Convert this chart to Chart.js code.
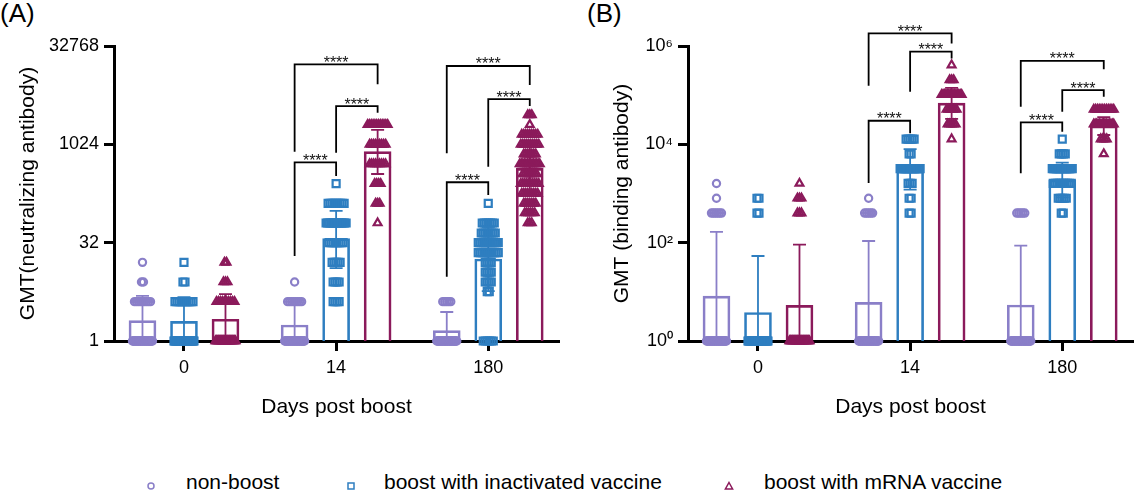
<!DOCTYPE html>
<html>
<head>
<meta charset="utf-8">
<script src="https://cdn.jsdelivr.net/npm/chart.js@4.4.1/dist/chart.umd.min.js"></script>
<style>
  html, body { margin: 0; padding: 0; background: #fff; }
  body { width: 1136px; height: 494px; position: relative; overflow: hidden;
         font-family: 'Liberation Sans', Arial, sans-serif; color: #000; }
  canvas.panel { position: absolute; top: 0; }
  .tag { position: absolute; top: -2px; font-size: 26px; line-height: 30px; }
  .lg-text { position: absolute; top: 470px; font-size: 21px; line-height: 24px; white-space: nowrap; }
  .lg-mark { position: absolute; top: 477px; }
</style>
</head>
<body>
<div class="tag" style="left:0px">(A)</div>
<div class="tag" style="left:587px">(B)</div>
<canvas id="chartA" class="panel" width="570" height="440" style="left:0px"></canvas>
<canvas id="chartB" class="panel" width="570" height="440" style="left:574px"></canvas>
<div id="legend"></div>
<script>
// ---------------- data ----------------
const days = ['0', '14', '180'];
const seriesNames = ['non-boost', 'boost with inactivated vaccine', 'boost with mRNA vaccine'];

const ticksA = [1, 32, 1024, 32768];
const tickLabelsA = ['1', '32', '1024', '32768'];
const ticksB = [1, 100, 10000, 1000000];
const tickLabelsB = ['10\u2070', '10\u00B2', '10\u2074', '10\u2076'];

// Panel A: neutralizing antibody GMT (per day 0 / 14 / 180)
const gmtA_nonBoost     = [2.05, 1.76, 1.44];
const gmtA_inactivated  = [2.0, 36.8, 18.0];
const gmtA_mRNA         = [2.15, 790, 440];
const upA_nonBoost      = [4.9, 3.95, 2.78];
const upA_inactivated   = [4.7, 98, 56];
const upA_mRNA          = [5.2, 1700, 1080];
const lowA_nonBoost     = [0.86, 0.78, 0.75];
const lowA_inactivated  = [0.85, 13, 5.8];
const lowA_mRNA         = [0.89, 360, 180];

// individual titres: [titre, number of subjects]
const ptsA_nonBoost = [
  [[1, 30], [4, 9], [8, 2], [16, 1]],
  [[1, 30], [4, 8], [8, 1]],
  [[1, 30], [4, 5]]
];
const ptsA_inactivated = [
  [[1, 30], [4, 10], [8, 2], [16, 1]],
  [[4, 4], [8, 4], [16, 5], [32, 8], [64, 14], [128, 9], [256, 1]],
  [[1, 6], [5.7, 2], [8, 4], [11.3, 4], [16, 4], [22.6, 11], [32, 12], [45, 8], [64, 7], [128, 1]]
];
const ptsA_mRNA = [
  [[1, 30], [4, 10], [8, 3], [16, 2]],
  [[64, 1], [128, 3], [256, 4], [512, 9], [1024, 9], [2048, 12]],
  [[64, 3], [91, 6], [128, 7], [181, 9], [256, 10], [362, 8], [512, 14], [724, 7], [1024, 10], [1448, 9], [2048, 1], [2896, 3]]
];

// Panel B: binding antibody GMT
const gmtB_nonBoost     = [8.2, 6.1, 5.4];
const gmtB_inactivated  = [3.8, 3100, 1880];
const gmtB_mRNA         = [5.3, 69000, 23600];
const upB_nonBoost      = [165, 108, 87];
const upB_inactivated   = [53.5, 8000, 4230];
const upB_mRNA          = [91, 141000, 35800];
const lowB_nonBoost     = [0.4, 0.35, 0.33];
const lowB_inactivated  = [0.27, 1195, 836];
const lowB_mRNA         = [0.3, 33000, 15500];

const ptsB_nonBoost = [
  [[1, 30], [400, 6], [800, 1], [1600, 1]],
  [[1, 30], [400, 5], [800, 1]],
  [[1, 30], [400, 5]]
];
const ptsB_inactivated = [
  [[1, 30], [400, 2], [800, 2]],
  [[400, 2], [800, 2], [1600, 3], [3200, 15], [6400, 2], [12800, 5]],
  [[400, 2], [800, 5], [1600, 10], [3200, 15], [6400, 4], [12800, 1]]
];
const ptsB_mRNA = [
  [[1, 30], [400, 3], [800, 3], [1600, 1]],
  [[12800, 1], [25600, 5], [51200, 6], [102400, 15], [204800, 3], [409600, 1]],
  [[6400, 1], [12800, 4], [25600, 15], [51200, 12]]
];

// significance brackets: [day, fromSeries, toSeries, topLevel, leftLegEnd, rightLegEnd]
const bracketsA = [
  [1, 0, 2, 17200, 790, 8500],
  [1, 1, 2, 3950, 763, 3120],
  [1, 0, 1, 543, 20, 335],
  [2, 0, 2, 16200, 745, 8300],
  [2, 1, 2, 5050, 466, 3950],
  [2, 0, 1, 269, 9.6, 172]
];
const bracketsB = [
  [1, 0, 2, 1.81e6, 1.556e5, 1.13e6],
  [1, 1, 2, 7.65e5, 1.175e5, 5.6e5],
  [1, 0, 1, 30200, 1634, 16750],
  [2, 0, 2, 5.0e5, 58200, 3.36e5],
  [2, 1, 2, 1.27e5, 46000, 93000],
  [2, 0, 1, 28000, 2570, 18070]
];
const sigLabel = '****';

// ---------------- styling / layout ----------------
const FONT = "'Liberation Sans', Arial, sans-serif";
const COLORS = ['#8A7FC8', '#2E7EC0', '#8B1A5B'];
const STYLES = ['circle', 'rect', 'triangle'];
const RADII = [3.6, 4.95, 4.5];
const X_MIN = -0.46, X_MAX = 2.465;
const PLOT_W = 445;
const PX_PER_UNIT = PLOT_W / (X_MAX - X_MIN);
const G = 41.5 / PX_PER_UNIT;      // offset between series within a day
const STEP_PX = 2, SPREAD_PX = 20;  // horizontal scatter of repeated titres

function buildPoints(list, s) {
  const out = [];
  list.forEach((groups, day) => {
    groups.forEach(([v, n]) => {
      const step = n > 1 ? Math.min(STEP_PX, SPREAD_PX / (n - 1)) : 0;
      for (let j = 0; j < n; j++) {
        const dx = (j - (n - 1) / 2) * step / PX_PER_UNIT;
        out.push({ x: day + (s - 1) * G + dx, y: v });
      }
    });
  });
  return out;
}

function tickLabel(v, ticks, labels) {
  for (let i = 0; i < ticks.length; i++) {
    if (Math.abs(Math.log(v / ticks[i])) < 1e-6) return labels[i];
  }
  return '';
}

function makeChart(id, P) {
  const datasets = [];
  for (let s = 0; s < 3; s++) {
    datasets.push({
      type: 'bar', label: seriesNames[s],
      data: P.means[s].map((v, d) => ({ x: d + (s - 1) * G, y: v })),
      backgroundColor: 'rgba(255,255,255,0)', borderColor: COLORS[s], borderWidth: 2,
      borderSkipped: 'start', barThickness: 27, grouped: false, order: 2
    });
  }
  for (let s = 0; s < 3; s++) {
    datasets.push({
      type: 'scatter', label: seriesNames[s], data: buildPoints(P.points[s], s),
      pointStyle: STYLES[s], pointRadius: RADII[s], pointHoverRadius: RADII[s],
      borderColor: COLORS[s], pointBorderColor: COLORS[s],
      backgroundColor: 'rgba(0,0,0,0)', pointBackgroundColor: 'rgba(0,0,0,0)',
      pointBorderWidth: 2.2, borderWidth: 2.2, showLine: false, clip: false, order: 1
    });
  }

  const errorPlugin = {
    id: 'errors' + id,
    afterDatasetDraw(chart, args) {
      if (args.index > 2) return;
      const s = args.index;
      const xs = chart.scales.x, ys = chart.scales.y, ctx = chart.ctx;
      ctx.save();
      ctx.strokeStyle = COLORS[s];
      ctx.lineWidth = 1.8;
      for (let d = 0; d < 3; d++) {
        const x = xs.getPixelForValue(d + (s - 1) * G);
        const yU = ys.getPixelForValue(P.upper[s][d]);
        const low = P.lower[s][d];
        const lowVisible = low >= ys.min;
        const yL = lowVisible ? ys.getPixelForValue(low) : ys.bottom;
        ctx.beginPath();
        ctx.moveTo(x, yU); ctx.lineTo(x, yL);
        ctx.moveTo(x - 6.5, yU); ctx.lineTo(x + 6.5, yU);
        if (lowVisible) { ctx.moveTo(x - 6.5, yL); ctx.lineTo(x + 6.5, yL); }
        ctx.stroke();
      }
      ctx.restore();
    }
  };

  const bracketPlugin = {
    id: 'brackets' + id,
    afterDraw(chart) {
      const xs = chart.scales.x, ys = chart.scales.y, ctx = chart.ctx;
      ctx.save();
      ctx.strokeStyle = '#000';
      ctx.fillStyle = '#111';
      ctx.lineWidth = 1.8;
      ctx.font = '16px ' + FONT;
      ctx.textAlign = 'center';
      ctx.textBaseline = 'alphabetic';
      P.brackets.forEach(([d, s1, s2, top, lb, rb]) => {
        const x1 = xs.getPixelForValue(d + (s1 - 1) * G);
        const x2 = xs.getPixelForValue(d + (s2 - 1) * G);
        const yT = ys.getPixelForValue(top);
        ctx.beginPath();
        ctx.moveTo(x1, ys.getPixelForValue(lb));
        ctx.lineTo(x1, yT);
        ctx.lineTo(x2, yT);
        ctx.lineTo(x2, ys.getPixelForValue(rb));
        ctx.stroke();
        ctx.fillText(sigLabel, (x1 + x2) / 2, yT + 3.5);
      });
      ctx.restore();
    }
  };

  const axisGrid = { drawOnChartArea: false, drawTicks: true, tickLength: 10, tickWidth: 3, tickColor: '#000', offset: false };
  const axisBorder = { display: true, color: '#000', width: 3 };

  return new Chart(document.getElementById(id), {
    type: 'bar',
    data: { datasets },
    plugins: [errorPlugin, bracketPlugin],
    options: {
      responsive: false, animation: false, events: [],
      layout: { padding: { left: P.padLeft, right: 11, top: 46, bottom: 0 } },
      plugins: { legend: { display: false }, tooltip: { enabled: false } },
      scales: {
        x: {
          type: 'linear', min: X_MIN, max: X_MAX, offset: false,
          afterBuildTicks: (s) => { s.ticks = days.map((_, i) => ({ value: i })); },
          afterFit: (s) => { s.height = 99; },
          ticks: { callback: (v) => days[Math.round(v)], color: '#000', padding: 6,
                   font: { family: FONT, size: 18 }, maxRotation: 0, autoSkip: false },
          grid: axisGrid, border: axisBorder,
          title: { display: true, text: 'Days post boost', color: '#000',
                   font: { family: FONT, size: 21 }, padding: { top: 0, bottom: 20 } }
        },
        y: {
          type: 'logarithmic', min: 1, max: P.yMax, offset: false,
          afterBuildTicks: (s) => { s.ticks = P.yTicks.map(v => ({ value: v })); },
          afterFit: (s) => { s.width = 114 - P.padLeft; },
          ticks: { callback: (v) => tickLabel(v, P.yTicks, P.yLabels), color: '#000', padding: 5,
                   font: { family: FONT, size: 18 }, autoSkip: false },
          grid: axisGrid, border: axisBorder,
          title: { display: true, text: P.yTitle, color: '#000',
                   font: { family: FONT, size: 21 }, padding: { top: 0, bottom: 0 } }
        }
      }
    }
  });
}

makeChart('chartA', {
  yMax: 32768, yTicks: ticksA, yLabels: tickLabelsA, yTitle: 'GMT(neutralizing antibody)', padLeft: 16,
  means: [gmtA_nonBoost, gmtA_inactivated, gmtA_mRNA],
  upper: [upA_nonBoost, upA_inactivated, upA_mRNA],
  lower: [lowA_nonBoost, lowA_inactivated, lowA_mRNA],
  points: [ptsA_nonBoost, ptsA_inactivated, ptsA_mRNA],
  brackets: bracketsA
});
makeChart('chartB', {
  yMax: 1000000, yTicks: ticksB, yLabels: tickLabelsB, yTitle: 'GMT (binding antibody)', padLeft: 36,
  means: [gmtB_nonBoost, gmtB_inactivated, gmtB_mRNA],
  upper: [upB_nonBoost, upB_inactivated, upB_mRNA],
  lower: [lowB_nonBoost, lowB_inactivated, lowB_mRNA],
  points: [ptsB_nonBoost, ptsB_inactivated, ptsB_mRNA],
  brackets: bracketsB
});

// ---------------- legend ----------------
(function buildLegend() {
  const marks = [151, 351, 729];
  const texts = [186, 384, 764];
  const lg = document.getElementById('legend');
  const shapes = [
    (c) => `<circle cx="5" cy="5" r="3" fill="none" stroke="${c}" stroke-width="1.5"/>`,
    (c) => `<rect x="2" y="2" width="6" height="6" fill="none" stroke="${c}" stroke-width="1.5"/>`,
    (c) => `<polygon points="5,1.5 8.6,8 1.4,8" fill="none" stroke="${c}" stroke-width="1.5"/>`
  ];
  seriesNames.forEach((name, s) => {
    const svg = document.createElement('div');
    svg.className = 'lg-mark';
    svg.style.left = (marks[s] - 5) + 'px';
    svg.innerHTML = `<svg width="10" height="10">${shapes[s](COLORS[s])}</svg>`;
    lg.appendChild(svg);
    const t = document.createElement('div');
    t.className = 'lg-text';
    t.style.left = texts[s] + 'px';
    t.textContent = name;
    lg.appendChild(t);
  });
})();
</script>
</body>
</html>
